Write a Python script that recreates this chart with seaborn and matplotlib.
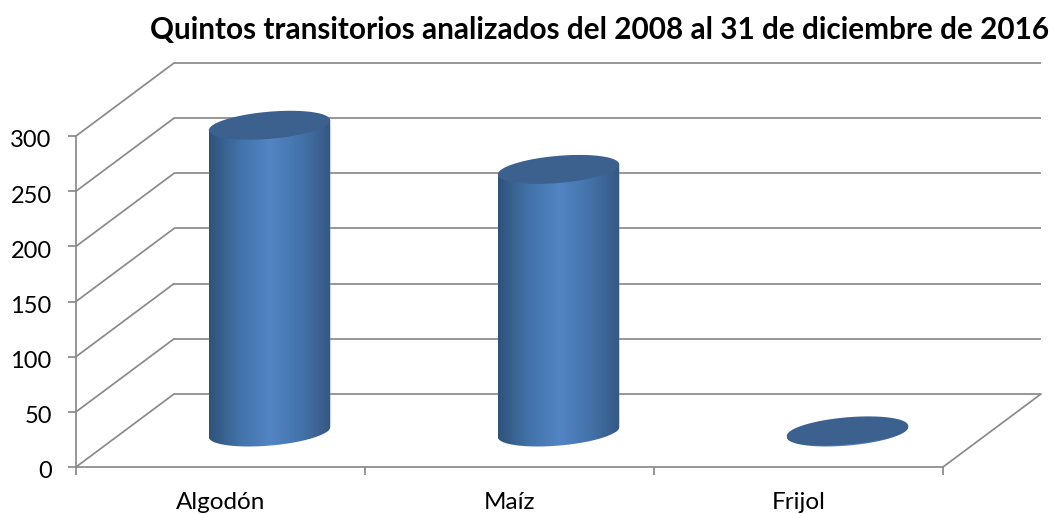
import matplotlib
matplotlib.use('Agg')
import matplotlib.pyplot as plt
import seaborn as sns
import numpy as np
import pandas as pd
from matplotlib.colors import LinearSegmentedColormap
from matplotlib.patches import Polygon
from matplotlib.transforms import Affine2D, IdentityTransform

#----------------------------------------------------
title='Quintos transitorios analizados del 2008 al 31 de diciembre de 2016'
cultivos=['Algodón', 'Maíz', 'Frijol']
casos=[278, 238, 1]
yticks=[0, 50, 100, 150, 200, 250, 300]

c_grid='#8a8a8a'
c_top='#3c618f'
cmap_bar=LinearSegmentedColormap.from_list('cyl', ['#2f527a', '#4272a8', '#5385c5', '#4473aa', '#355882'])

#----------------------------------------------------
sns.set_style('white')
plt.rcParams['font.family']=['Lato', 'DejaVu Sans']

W, H=1052, 514
fig=plt.figure(figsize=(W/100, H/100), dpi=100)
ax=fig.add_axes([76/W, (H-467)/H, 867/W, 331/H])
df=pd.DataFrame({'cultivo': cultivos, 'casos': casos})
sns.barplot(data=df, x='cultivo', y='casos', color='#4272a8', saturation=1, width=0.42, ax=ax)
ax.set_xlim(-0.5, 2.5)
ax.set_ylim(0, 300)
ax.patch.set_visible(False)

#3d look: depth of the floor, in data units
depth_x=98/289
depth_y=73/(331/300)
back=Affine2D().translate(depth_x, depth_y)+ax.transData
mid=Affine2D().translate(depth_x/2, 35/(331/300))+ax.transData

#walls
lw=1.25
ax.hlines(yticks, -0.5, 2.5, transform=back, color=c_grid, lw=lw, clip_on=False, zorder=1)
for v in yticks:
	ax.plot([-0.5, -0.5+depth_x], [v, v+depth_y], color=c_grid, lw=lw, clip_on=False, zorder=1)
ax.plot([2.5, 2.5+depth_x], [0, depth_y], color=c_grid, lw=lw, clip_on=False, zorder=1)

#cylinders, drawn on the bars of the plot
ring=np.linspace(0, 2*np.pi, 181)
arc=np.linspace(0, -np.pi, 91)
grad=np.linspace(0, 1, 256).reshape(1, -1)
for bar in list(ax.patches):
	x0, w, h=bar.get_x(), bar.get_width(), bar.get_height()
	bar.set_transform(mid)
	bar.set_zorder(2)
	(xb, yb), (xt, yt)=mid.transform([(x0+w/2, 0), (x0+w/2, h)])
	a=(mid.transform((x0+w, 0))[0]-mid.transform((x0, 0))[0])/2
	tilt, b=5, 13.6
	low=np.c_[xb+a*np.cos(arc), yb+tilt*np.cos(arc)+b*np.sin(arc)]
	body=np.vstack([low, [[xt-a, yt-tilt], [xt+a, yt+tilt]]])
	clip=Polygon(body, closed=True, transform=IdentityTransform())
	bar.set_clip_box(fig.bbox)
	bar.set_clip_path(clip)
	im=ax.imshow(grad, cmap=cmap_bar, aspect='auto', extent=(x0, x0+w, -20, h+5), zorder=3)
	im.set_transform(mid)
	im.set_clip_box(fig.bbox)
	im.set_clip_path(clip)
	cap=np.c_[xt+a*np.cos(ring), yt+tilt*np.cos(ring)+b*np.sin(ring)]
	ax.add_patch(Polygon(cap, closed=True, transform=IdentityTransform(), fc=c_top, ec='none', zorder=4, clip_on=False))
ax.set_xlim(-0.5, 2.5)
ax.set_ylim(0, 300)

#axes
sns.despine(ax=ax, top=True, right=True)
for s in ['left', 'bottom']:
	ax.spines[s].set_color(c_grid)
	ax.spines[s].set_linewidth(lw)
ax.set_xticks([-0.5, 0.5, 1.5, 2.5], labels=[])
ax.set_xticks([0, 1, 2], labels=cultivos, minor=True)
ax.set_yticks(yticks)
ax.tick_params(axis='x', which='major', length=6, width=lw, color=c_grid, bottom=True)
ax.tick_params(axis='x', which='minor', length=0, pad=18, labelsize=17.5, labelcolor='black')
ax.tick_params(axis='y', length=6, width=lw, color=c_grid, left=True, pad=11.5, labelsize=17, labelcolor='black')
for t in ax.get_yticklabels():
	t.set_transform(t.get_transform()+Affine2D().translate(0, -3))
ax.set_xlabel('')
ax.set_ylabel('')
ax.set_title(title, x=(600-76)/867, y=(467-30)/331, va='center', fontsize=21.4, weight='bold', color='black', pad=0)

fig.savefig('out.png', dpi=100)
plt.close()
